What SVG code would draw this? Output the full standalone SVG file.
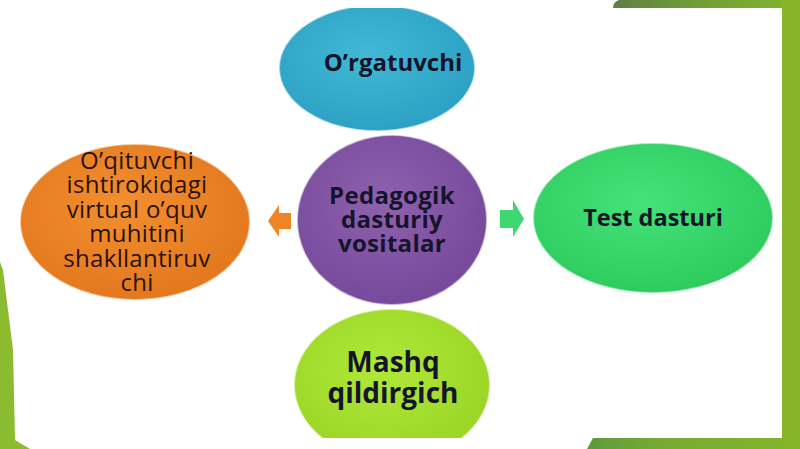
<svg xmlns="http://www.w3.org/2000/svg" width="800" height="449" viewBox="0 0 800 449">
<defs>
<linearGradient id="gTop" x1="0" y1="0" x2="1" y2="0">
<stop offset="0" stop-color="#5f7f45"/><stop offset="0.4" stop-color="#6f9a3a"/><stop offset="1" stop-color="#84b52c"/>
</linearGradient>
<linearGradient id="gBot" x1="0" y1="0" x2="1" y2="0">
<stop offset="0" stop-color="#5e9a3c"/><stop offset="0.35" stop-color="#76ab32"/><stop offset="1" stop-color="#86b52a"/>
</linearGradient>
<radialGradient id="gBlue" cx="0.45" cy="0.4" r="0.65">
<stop offset="0" stop-color="#42b8d6"/><stop offset="1" stop-color="#2a9fc2"/>
</radialGradient>
<radialGradient id="gPurple" cx="0.45" cy="0.4" r="0.65">
<stop offset="0" stop-color="#8e62ad"/><stop offset="1" stop-color="#74479a"/>
</radialGradient>
<radialGradient id="gOrange" cx="0.45" cy="0.4" r="0.65">
<stop offset="0" stop-color="#f28f30"/><stop offset="1" stop-color="#e2761c"/>
</radialGradient>
<radialGradient id="gGreen" cx="0.45" cy="0.4" r="0.65">
<stop offset="0" stop-color="#45e27a"/><stop offset="1" stop-color="#2cc95c"/>
</radialGradient>
<radialGradient id="gLime" cx="0.45" cy="0.4" r="0.65">
<stop offset="0" stop-color="#b0e83a"/><stop offset="1" stop-color="#98d424"/>
</radialGradient>
<clipPath id="slide"><rect x="0" y="8" width="782" height="430"/></clipPath>
</defs>
<style>
.lbl{font-family:"Open Sans","Noto Sans","DejaVu Sans",sans-serif;font-weight:700;text-anchor:middle;fill:#14142a}
.olbl{font-family:"Open Sans","Noto Sans","DejaVu Sans",sans-serif;font-weight:500;text-anchor:middle;fill:#2a1208;font-size:24px;letter-spacing:0.3px}
.rim{stroke:#ffffff;stroke-opacity:0.55;stroke-width:2}
</style>
<rect width="800" height="449" fill="#ffffff"/>
<g id="frame">
<path d="M619 0 H800 V8 H613 Q613 2 619 0 Z" fill="url(#gTop)"/>
<rect x="782" y="0" width="18" height="449" fill="#86b52c"/>
<path d="M593 438 H800 V449 H587 Z" fill="url(#gBot)"/>
<path d="M0 262 L3 270 L13 350 L15 440 L30 449 L0 449 Z" fill="#8bbb2e"/>
</g>
<g clip-path="url(#slide)">
<g id="node-orgatuvchi">
<ellipse cx="377" cy="68" rx="98" ry="63" fill="url(#gBlue)" class="rim"/>
<text class="lbl" x="393" y="71" font-size="24">O’rgatuvchi</text>
</g>
<g id="node-pedagogik">
<ellipse cx="392" cy="220" rx="95" ry="85" fill="url(#gPurple)" class="rim"/>
<text class="lbl" x="392" y="204" font-size="24" letter-spacing="0.3">Pedagogik</text>
<text class="lbl" x="392" y="228" font-size="24" letter-spacing="0.3">dasturiy</text>
<text class="lbl" x="392" y="252" font-size="24" letter-spacing="0.3">vositalar</text>
</g>
<g id="node-virtual">
<ellipse cx="135" cy="222" rx="115" ry="78" fill="url(#gOrange)" class="rim"/>
<text class="olbl" x="137" y="169">O’qituvchi</text>
<text class="olbl" x="137" y="193">ishtirokidagi</text>
<text class="olbl" x="137" y="218">virtual o’quv</text>
<text class="olbl" x="137" y="242">muhitini</text>
<text class="olbl" x="137" y="267">shakllantiruv</text>
<text class="olbl" x="137" y="291">chi</text>
</g>
<g id="node-test">
<ellipse cx="653" cy="218" rx="120" ry="75" fill="url(#gGreen)" class="rim"/>
<text class="lbl" x="653" y="226" font-size="23.5">Test dasturi</text>
</g>
<g id="node-mashq">
<ellipse cx="392" cy="385" rx="98" ry="76" fill="url(#gLime)" class="rim"/>
<text class="lbl" x="393" y="372" font-size="28">Mashq</text>
<text class="lbl" x="393" y="403" font-size="28">qildirgich</text>
</g>
</g>
<g id="connectors">
<path d="M268 221 L279 205 L279 213 L291 213 L291 229 L279 229 L279 237 Z" fill="#ee8426"/>
<path d="M524 219 L513 200 L513 210 L500 210 L500 228 L513 228 L513 237 Z" fill="#3dd870"/>
</g>
</svg>
